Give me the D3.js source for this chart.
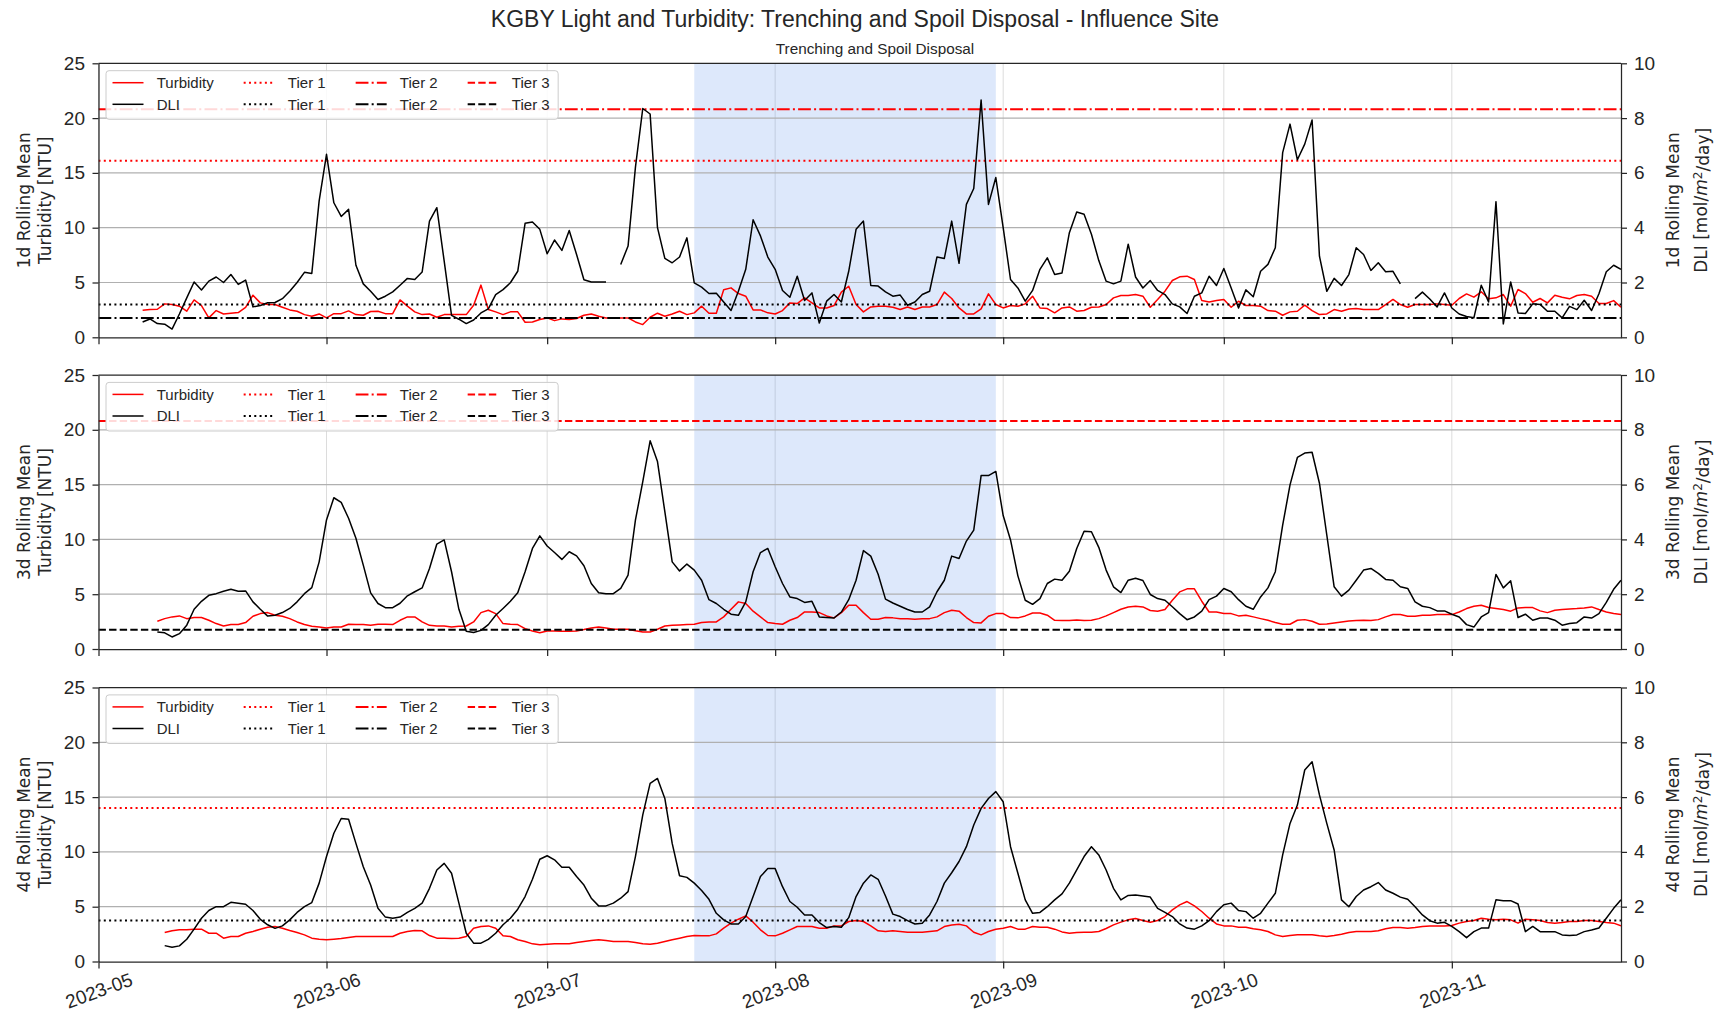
<!DOCTYPE html>
<html lang="en">
<head>
<meta charset="UTF-8">
<title>KGBY Light and Turbidity</title>
<script src="https://d3js.org/d3.v7.min.js"></script>
<style>
  body { margin: 0; background: #fff; }
  svg { display: block; }
  .tick text { font-family: "Liberation Sans", Arial, sans-serif; font-size: 19px; fill: #262626; }
  .axis-label { font-family: "DejaVu Sans", sans-serif; font-size: 17px; fill: #262626; }
  .legend-text { font-family: "Liberation Sans", Arial, sans-serif; font-size: 15px; fill: #262626; }
</style>
</head>
<body>
<svg id="chart"></svg>
<script>
// ---- data (daily rolling means) ----
const start1d = "2023-05-07";
const start3d = "2023-05-09";
const start4d = "2023-05-10";

const turb1d = [2.47,2.53,2.56,3.05,2.99,2.84,2.38,3.41,2.9,1.77,2.44,2.13,2.2,2.26,2.74,3.84,3.14,2.99,2.99,2.74,2.5,2.38,2.07,1.92,2.13,1.77,2.16,2.16,2.41,2.07,2.01,2.35,2.38,2.16,2.16,3.41,2.84,2.32,2.07,2.13,1.83,2.07,2.07,2.07,2.07,2.93,4.76,2.53,2.32,2.07,2.32,2.32,1.37,1.4,1.62,1.77,1.52,1.68,1.62,1.71,2.01,2.13,1.92,1.77,1.77,1.77,1.77,1.4,
  1.16,1.83,2.2,1.92,2.13,2.38,2.07,2.23,2.84,2.2,2.2,4.33,4.51,3.99,3.75,2.5,2.5,2.23,2.13,2.44,3.14,3.08,3.6,3.14,2.68,2.68,2.9,4.12,4.66,2.99,2.32,2.77,2.84,2.84,2.74,2.53,2.77,2.53,2.77,2.77,2.99,4.12,3.54,2.68,2.13,2.13,2.59,3.96,2.99,2.68,2.9,2.84,3.05,3.75,2.68,2.62,2.23,2.68,2.77,2.38,2.44,2.74,2.77,2.99,3.6,3.81,3.81,3.9,3.75,
  2.74,3.45,4.21,5.18,5.52,5.58,5.27,3.35,3.23,3.35,3.45,2.74,3.29,2.9,2.9,2.84,2.44,2.38,2.01,2.32,2.38,2.93,2.44,2.07,2.13,2.53,2.38,2.59,2.62,2.53,2.53,2.53,2.99,3.45,2.99,2.74,2.99,2.99,2.99,3.05,2.99,2.93,3.54,3.96,3.66,4.15,3.51,3.6,3.9,2.84,4.36,3.99,3.2,3.54,3.14,3.84,3.66,3.51,3.81,3.9,3.75,3.08,3.08,3.35,2.74];

const dli1d = [0.56,0.67,0.5,0.48,0.3,0.85,1.44,2.02,1.73,2.05,2.2,2.0,2.29,1.93,2.09,1.11,1.16,1.26,1.27,1.41,1.68,2.0,2.37,2.33,4.98,6.68,4.91,4.41,4.67,2.63,1.95,1.68,1.38,1.5,1.66,1.9,2.15,2.11,2.38,4.24,4.73,2.78,0.8,0.66,0.5,0.63,0.89,1.04,1.56,1.74,1.99,2.41,4.16,4.21,3.94,3.05,3.55,3.17,3.9,3.02,2.1,2.02,2.02,2.02,
  null,
  2.66,3.33,6.2,8.35,8.15,4.0,2.88,2.72,2.93,3.63,1.99,1.83,1.6,1.61,1.29,0.98,1.68,2.48,4.29,3.7,2.93,2.48,1.71,1.46,2.23,1.34,1.62,0.52,1.32,1.56,1.29,2.41,3.94,4.24,1.89,1.87,1.66,1.5,1.54,1.17,1.29,1.56,1.68,2.93,2.88,4.24,2.7,4.85,5.43,8.66,4.85,5.83,4.0,2.11,1.8,1.32,1.71,2.48,2.9,2.29,2.35,3.82,4.57,4.49,3.76,2.8,2.05,1.95,2.05,3.4,2.2,1.8,2.07,1.71,1.56,1.22,1.11,0.87,1.5,1.62,2.23,1.89,2.51,1.8,1.07,1.73,1.48,2.41,2.66,3.27,6.74,7.78,6.48,7.05,7.93,2.96,1.68,2.15,1.89,2.29,3.27,3.02,2.44,2.72,2.39,2.41,1.95,
  null,
  1.41,1.65,1.4,1.11,1.62,1.07,0.85,0.76,0.71,1.9,1.29,4.95,0.49,2.02,0.89,0.87,1.22,1.2,0.95,0.95,0.71,1.13,1.01,1.35,0.98,1.59,2.39,2.63,2.48];

const turb3d = [2.53,2.77,2.93,3.02,2.77,2.87,2.87,2.62,2.32,2.1,2.23,2.23,2.41,2.99,3.23,3.32,3.08,2.99,2.77,2.47,2.23,2.07,2.01,1.92,2.01,2.01,2.26,2.23,2.23,2.16,2.26,2.26,2.23,2.62,2.93,2.93,2.47,2.16,2.1,2.1,2.01,2.07,2.1,2.47,3.32,3.54,3.23,2.32,2.26,2.23,1.86,1.65,1.49,1.65,1.65,1.62,1.62,1.65,1.77,1.92,2.01,1.92,1.8,1.8,1.8,1.66,
  1.55,1.55,1.8,2.1,2.16,2.2,2.23,2.26,2.41,2.47,2.47,2.93,3.63,4.3,4.15,3.45,2.93,2.41,2.32,2.26,2.62,2.87,3.38,3.38,3.32,3.02,2.84,3.32,3.99,3.99,3.32,2.71,2.71,2.87,2.84,2.77,2.77,2.71,2.77,2.77,2.93,3.32,3.54,3.45,2.87,2.41,2.38,2.99,3.23,3.23,2.87,2.84,3.02,3.29,3.29,3.08,2.62,2.59,2.59,2.65,2.59,2.62,2.77,3.02,3.32,3.63,3.84,3.9,3.84,
  3.51,3.45,3.6,4.45,5.21,5.49,5.49,4.36,3.38,3.38,3.23,3.23,3.02,3.08,2.93,2.77,2.62,2.41,2.26,2.26,2.62,2.68,2.53,2.26,2.29,2.38,2.47,2.56,2.59,2.62,2.59,2.68,2.93,3.14,3.14,2.99,2.99,3.08,3.08,3.14,3.14,3.14,3.38,3.69,3.9,3.99,3.78,3.69,3.6,3.45,3.75,3.78,3.78,3.48,3.32,3.54,3.6,3.66,3.69,3.75,3.84,3.6,3.38,3.23,3.14];

const dli3d = [0.62,0.59,0.44,0.56,0.87,1.45,1.74,1.96,2.02,2.11,2.18,2.11,2.12,1.72,1.45,1.2,1.23,1.33,1.48,1.72,2.02,2.24,3.18,4.71,5.52,5.35,4.77,4.04,3.06,2.05,1.66,1.51,1.51,1.67,1.94,2.09,2.23,2.94,3.83,3.98,2.82,1.45,0.65,0.6,0.68,0.89,1.23,1.48,1.74,2.05,2.82,3.67,4.13,3.76,3.52,3.27,3.55,3.4,3.04,2.39,2.05,2.02,2.02,2.21,2.7,4.7,
  6.11,7.6,6.84,5.01,3.18,2.85,3.1,2.88,2.51,1.8,1.66,1.45,1.27,1.23,1.72,2.82,3.52,3.67,3.0,2.39,1.9,1.84,1.7,1.74,1.17,1.15,1.13,1.35,1.8,2.51,3.59,3.39,2.73,1.82,1.68,1.56,1.44,1.35,1.35,1.54,2.09,2.51,3.39,3.3,3.94,4.34,6.33,6.33,6.48,4.87,3.98,2.67,1.78,1.63,1.84,2.39,2.55,2.51,2.84,3.67,4.3,4.28,3.71,2.88,2.27,2.06,2.51,2.58,2.5,
  1.99,1.84,1.78,1.54,1.29,1.07,1.17,1.38,1.8,1.93,2.21,2.09,1.8,1.56,1.45,1.9,2.23,2.82,4.52,5.99,6.99,7.15,7.18,6.05,4.16,2.27,1.93,2.15,2.51,2.88,2.94,2.76,2.54,2.51,2.27,2.21,1.72,1.56,1.51,1.39,1.39,1.27,1.17,0.89,0.8,1.17,1.33,2.72,2.23,2.49,1.15,1.27,1.05,1.13,1.13,1.05,0.87,0.93,0.96,1.17,1.13,1.29,1.7,2.18,2.51];

const turb4d = [2.64,2.8,2.89,2.89,2.95,2.95,2.58,2.58,2.13,2.28,2.28,2.58,2.74,2.95,3.13,3.19,3.04,2.83,2.64,2.43,2.13,2.04,1.98,2.04,2.1,2.19,2.28,2.28,2.28,2.28,2.28,2.28,2.58,2.74,2.83,2.8,2.37,2.13,2.13,2.1,2.13,2.28,3.04,3.19,3.25,3.04,2.34,2.28,1.98,1.82,1.61,1.52,1.58,1.61,1.61,1.61,1.73,1.82,1.91,1.98,1.91,1.82,1.82,1.82,1.73,1.61,1.58,1.67,1.82,1.98,2.13,2.28,2.37,2.34,2.34,2.52,3.04,3.5,3.86,4.16,3.59,2.89,2.37,2.34,2.58,2.89,3.19,3.19,3.19,3.04,3.04,3.25,3.25,3.65,
  3.74,3.65,3.25,2.8,2.74,2.8,2.74,2.67,2.67,2.67,2.74,2.8,3.19,3.34,3.4,3.25,2.67,2.43,2.74,2.95,3.04,3.19,2.95,2.95,3.19,3.13,3.13,2.95,2.7,2.58,2.64,2.67,2.67,2.74,3.01,3.34,3.59,3.8,3.92,3.74,3.59,3.74,4.1,4.71,5.17,5.47,5.08,4.56,3.95,3.43,3.25,3.25,3.13,3.13,2.98,2.89,2.74,2.43,2.28,2.37,2.43,2.43,2.43,2.34,2.28,2.37,2.49,2.64,2.74,2.74,2.74,2.8,2.98,3.1,3.1,3.04,3.1,3.19,3.25,3.25,3.25,3.28,3.5,3.65,3.74,3.95,3.86,3.8,3.86,3.8,3.5,3.86,3.8,3.74,3.56,3.5,3.56,3.65,3.65,3.74,3.74,3.65,3.56,3.5,3.25];

const dli4d = [0.58,0.52,0.57,0.81,1.18,1.58,1.86,2.0,2.0,2.16,2.13,2.09,1.86,1.54,1.34,1.21,1.3,1.52,1.79,2.0,2.15,2.86,3.83,4.68,5.22,5.19,4.31,3.46,2.79,1.94,1.62,1.58,1.62,1.79,1.94,2.13,2.67,3.34,3.58,3.22,2.13,1.03,0.67,0.67,0.81,1.03,1.34,1.58,1.91,2.37,3.0,3.73,3.86,3.71,3.44,3.44,3.1,2.79,2.31,2.03,2.03,2.13,2.31,2.55,3.83,5.35,6.5,6.68,5.95,4.31,3.13,3.07,2.86,2.59,2.27,1.76,1.52,1.37,1.37,1.64,2.37,3.1,3.39,3.39,2.73,2.19,1.98,1.7,1.7,1.42,1.24,1.28,1.25,1.6,
  2.37,2.86,3.16,3.0,2.39,1.73,1.64,1.49,1.37,1.4,1.7,2.19,2.86,3.24,3.65,4.19,4.98,5.59,5.95,6.2,5.83,4.19,3.22,2.25,1.76,1.79,2.0,2.25,2.47,2.86,3.34,3.83,4.19,3.89,3.34,2.67,2.25,2.41,2.43,2.39,2.35,1.94,1.79,1.64,1.37,1.22,1.18,1.3,1.49,1.82,2.07,2.13,1.86,1.82,1.58,1.76,2.13,2.49,3.89,5.04,5.71,6.99,7.29,6.08,5.04,4.07,2.25,2.0,2.37,2.61,2.73,2.88,2.61,2.49,2.35,2.27,2.0,1.7,1.49,1.4,1.43,1.28,1.09,0.87,1.09,1.22,1.22,2.25,2.22,2.22,2.1,1.09,1.28,1.09,1.09,1.09,0.97,0.95,0.97,1.09,1.15,1.22,1.58,1.94,2.25];

// tier thresholds [Tier 1, Tier 2, Tier 3] per panel (null = not drawn)
const turbTiers1d = [16.1, 20.8, null];
const dliTiers1d  = [1.2, 0.7, null];
const turbTiers3d = [null, null, 20.8];
const dliTiers3d  = [null, null, 0.7];
const turbTiers4d = [14.0, null, null];
const dliTiers4d  = [1.5, null, null];

const windows = ["1d", "3d", "4d"];
const xStart = "2023-05-01", xEnd = "2023-11-24";
const shadeStart = "2023-07-21", shadeEnd = "2023-08-31";
const turbTicks = [0, 5, 10, 15, 20, 25];
const dliTicks = [0, 2, 4, 6, 8, 10];
const legendCols = [["Turbidity", "DLI"], ["Tier 1", "Tier 1"], ["Tier 2", "Tier 2"], ["Tier 3", "Tier 3"]];

// ---- layout ----
const W = 1715, H = 1015;
const X0 = 98.5, X1 = 1621;
const panelTops = [63.3, 375, 687.5];
const PH = 274;
const INK = "#262626";
const tierDash = ["2,3.3", "12.8,3.2,2,3.2", "7.4,3.2"];

const parse = d3.utcParse("%Y-%m-%d");
const svg = d3.select("#chart").attr("width", W).attr("height", H);
svg.append("rect").attr("width", W).attr("height", H).attr("fill", "#fff");

const x = d3.scaleUtc().domain([parse(xStart), parse(xEnd)]).range([X0, X1]);
const months = d3.utcMonth.range(parse(xStart), parse(xEnd));

const panels = [
  { win: windows[0], start: start1d, turb: turb1d, dli: dli1d, turbTiers: turbTiers1d, dliTiers: dliTiers1d },
  { win: windows[1], start: start3d, turb: turb3d, dli: dli3d, turbTiers: turbTiers3d, dliTiers: dliTiers3d },
  { win: windows[2], start: start4d, turb: turb4d, dli: dli4d, turbTiers: turbTiers4d, dliTiers: dliTiers4d }
];

function toPoints(start, values) {
  const s = parse(start);
  return values.map((v, i) => ({ date: d3.utcDay.offset(s, i), v: v }));
}

// titles
svg.append("text")
  .attr("x", 855).attr("y", 26.5)
  .attr("text-anchor", "middle")
  .style("font-family", '"Liberation Sans", Arial, sans-serif')
  .style("font-size", "23px").style("fill", INK)
  .text("KGBY Light and Turbidity: Trenching and Spoil Disposal - Influence Site");

svg.append("text")
  .attr("x", 875).attr("y", 54)
  .attr("text-anchor", "middle")
  .style("font-family", '"Liberation Sans", Arial, sans-serif')
  .style("font-size", "15.3px").style("fill", INK)
  .text("Trenching and Spoil Disposal");

panels.forEach((p, i) => {
  const top = panelTops[i], bottom = top + PH;
  const yL = d3.scaleLinear().domain([0, 25]).range([bottom, top]);
  const yR = d3.scaleLinear().domain([0, 10]).range([bottom, top]);
  const g = svg.append("g");

  const clipId = "clip" + i;
  g.append("clipPath").attr("id", clipId)
    .append("rect").attr("x", X0).attr("y", top).attr("width", X1 - X0).attr("height", PH);

  // vertical grid (month ticks)
  g.selectAll(".vgrid").data(months).join("line")
    .attr("x1", d => x(d)).attr("x2", d => x(d))
    .attr("y1", top).attr("y2", bottom)
    .attr("stroke", "#dcdcdc").attr("stroke-width", 1);

  // works period shading
  g.append("rect")
    .attr("x", x(parse(shadeStart))).attr("y", top)
    .attr("width", x(parse(shadeEnd)) - x(parse(shadeStart))).attr("height", PH)
    .attr("fill", "rgb(100,149,237)").attr("fill-opacity", 0.22);

  // horizontal grid
  g.selectAll(".hgrid").data(turbTicks.slice(1, -1)).join("line")
    .attr("x1", X0).attr("x2", X1)
    .attr("y1", d => yL(d)).attr("y2", d => yL(d))
    .attr("stroke", "#b0b0b0").attr("stroke-width", 1.2);

  const plot = g.append("g").attr("clip-path", `url(#${clipId})`);

  // turbidity
  const turbLine = d3.line().defined(d => d.v != null).x(d => x(d.date)).y(d => yL(d.v));
  plot.append("path").datum(toPoints(p.start, p.turb))
    .attr("d", turbLine).attr("fill", "none")
    .attr("stroke", "red").attr("stroke-width", 1.5).attr("stroke-linejoin", "round");

  p.turbTiers.forEach((t, k) => {
    if (t == null) return;
    plot.append("line")
      .attr("x1", X0).attr("x2", X1).attr("y1", yL(t)).attr("y2", yL(t))
      .attr("stroke", "red").attr("stroke-width", 2).attr("stroke-dasharray", tierDash[k]);
  });

  // DLI on right axis
  const dliLine = d3.line().defined(d => d.v != null).x(d => x(d.date)).y(d => yR(d.v));
  plot.append("path").datum(toPoints(p.start, p.dli))
    .attr("d", dliLine).attr("fill", "none")
    .attr("stroke", "black").attr("stroke-width", 1.5).attr("stroke-linejoin", "round");

  p.dliTiers.forEach((t, k) => {
    if (t == null) return;
    plot.append("line")
      .attr("x1", X0).attr("x2", X1).attr("y1", yR(t)).attr("y2", yR(t))
      .attr("stroke", "black").attr("stroke-width", 2).attr("stroke-dasharray", tierDash[k]);
  });

  // axes
  const left = g.append("g").attr("transform", `translate(${X0},0)`)
    .call(d3.axisLeft(yL).tickValues(turbTicks).tickSize(6).tickSizeOuter(0).tickPadding(7.5).tickFormat(d3.format("d")));
  const right = g.append("g").attr("transform", `translate(${X1},0)`)
    .call(d3.axisRight(yR).tickValues(dliTicks).tickSize(6).tickSizeOuter(0).tickPadding(7).tickFormat(d3.format("d")));
  const bot = g.append("g").attr("transform", `translate(0,${bottom})`)
    .call(d3.axisBottom(x).tickValues(months).tickSize(7).tickSizeOuter(0)
      .tickFormat(i === 2 ? d3.utcFormat("%Y-%m") : () => ""));
  [left, right, bot].forEach(a => {
    a.select(".domain").attr("stroke", INK).attr("stroke-width", 1.25);
    a.selectAll(".tick line").attr("stroke", INK).attr("stroke-width", 1.25);
  });
  if (i === 2) {
    bot.selectAll(".tick text")
      .attr("y", 0).attr("dy", "0.35em")
      .attr("text-anchor", "middle")
      .attr("transform", "translate(0,29) rotate(-20)");
  }
  g.append("line").attr("x1", X0).attr("x2", X1).attr("y1", top).attr("y2", top)
    .attr("stroke", INK).attr("stroke-width", 1.25);

  // y labels
  const lab = g.append("text").attr("class", "axis-label")
    .attr("text-anchor", "middle")
    .attr("transform", `translate(0,${top + PH / 2}) rotate(-90)`);
  lab.append("tspan").attr("x", 0).attr("y", 24.5).attr("dy", "0.35em").text(p.win + " Rolling Mean");
  lab.append("tspan").attr("x", 0).attr("y", 45.3).attr("dy", "0.35em").text("Turbidity [NTU]");

  const labR = g.append("text").attr("class", "axis-label")
    .attr("text-anchor", "middle")
    .attr("transform", `translate(0,${top + PH / 2}) rotate(-90)`);
  labR.append("tspan").attr("x", 0).attr("y", 1673).attr("dy", "0.35em").text(p.win + " Rolling Mean");
  const l2 = labR.append("tspan").attr("x", 0).attr("y", 1701).attr("dy", "0.35em");
  l2.append("tspan").text("DLI [mol/");
  l2.append("tspan").style("font-style", "italic").text("m");
  l2.append("tspan").attr("dy", "-0.45em").style("font-size", "12px").text("2");
  l2.append("tspan").attr("dy", "0.45em").text("/day]");

  // legend
  const lg = g.append("g");
  const boxX = 106, boxY = top + 7.4, boxH = 48.6;
  const rows = [top + 19.4, top + 41];
  const box = lg.append("rect")
    .attr("x", boxX).attr("y", boxY).attr("height", boxH).attr("rx", 3)
    .attr("fill", "#fff").attr("fill-opacity", 0.85)
    .attr("stroke", "#cccccc").attr("stroke-width", 1);
  let cx = boxX + 6.5;
  const colors = ["red", "black"];
  legendCols.forEach((col, c) => {
    let maxW = 0;
    col.forEach((txt, r) => {
      lg.append("line")
        .attr("x1", cx).attr("x2", cx + 31)
        .attr("y1", rows[r]).attr("y2", rows[r])
        .attr("stroke", colors[r]).attr("stroke-width", c === 0 ? 1.5 : 2)
        .attr("stroke-dasharray", c === 0 ? null : tierDash[c - 1]);
      const t = lg.append("text").attr("class", "legend-text")
        .attr("x", cx + 44.2).attr("y", rows[r]).attr("dy", "0.35em").text(txt);
      maxW = Math.max(maxW, t.node().getComputedTextLength());
    });
    cx += 44.2 + maxW + (c < legendCols.length - 1 ? 30 : 8.5);
  });
  box.attr("width", cx - boxX);
});
</script>
</body>
</html>
